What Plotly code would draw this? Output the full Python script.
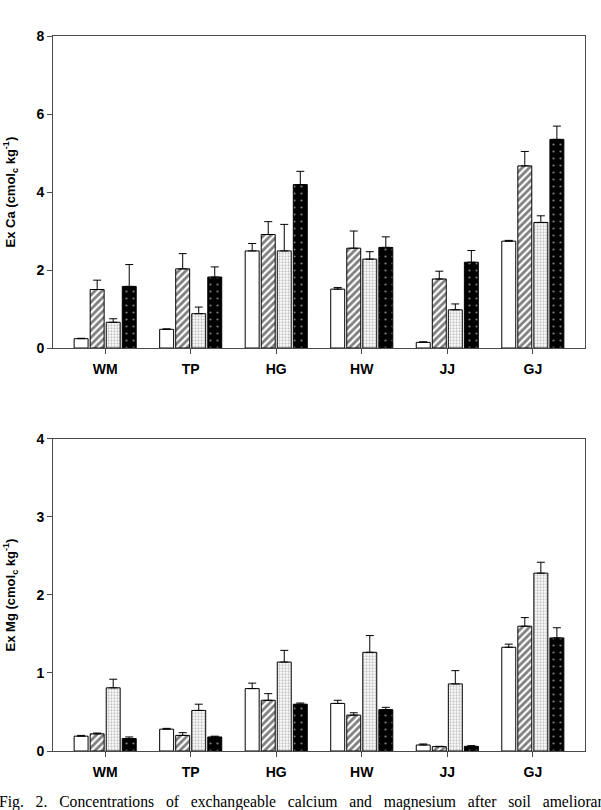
import plotly.graph_objects as go

categories = ["WM", "TP", "HG", "HW", "JJ", "GJ"]

# Exchangeable Ca (cmolc/kg): bar values and upper error-bar tops
ca_s1 = [0.24, 0.48, 2.49, 1.51, 0.145, 2.74]
ca_s1_top = [0.25, 0.49, 2.68, 1.55, 0.16, 2.76]
ca_s2 = [1.50, 2.03, 2.91, 2.56, 1.77, 4.67]
ca_s2_top = [1.74, 2.42, 3.24, 3.00, 1.97, 5.04]
ca_s3 = [0.66, 0.88, 2.49, 2.28, 0.98, 3.22]
ca_s3_top = [0.75, 1.05, 3.17, 2.47, 1.13, 3.39]
ca_s4 = [1.58, 1.82, 4.19, 2.58, 2.20, 5.35]
ca_s4_top = [2.14, 2.08, 4.53, 2.85, 2.50, 5.69]

# Exchangeable Mg (cmolc/kg)
mg_s1 = [0.19, 0.28, 0.80, 0.61, 0.077, 1.33]
mg_s1_top = [0.20, 0.29, 0.87, 0.65, 0.09, 1.37]
mg_s2 = [0.22, 0.20, 0.65, 0.46, 0.056, 1.60]
mg_s2_top = [0.23, 0.235, 0.735, 0.49, 0.06, 1.71]
mg_s3 = [0.81, 0.52, 1.14, 1.265, 0.86, 2.28]
mg_s3_top = [0.92, 0.60, 1.29, 1.48, 1.03, 2.42]
mg_s4 = [0.16, 0.18, 0.60, 0.53, 0.06, 1.45]
mg_s4_top = [0.18, 0.19, 0.615, 0.56, 0.068, 1.58]

ca_ticks = [0, 2, 4, 6, 8]
mg_ticks = [0, 1, 2, 3, 4]

styles = [
    dict(color="white", pattern=dict(shape="")),
    dict(color="white", pattern=dict(shape="/", fgcolor="black", bgcolor="white", size=5, solidity=0.55)),
    dict(color="#e6e6e6", pattern=dict(shape=".", fgcolor="#8a8a8a", bgcolor="white", size=3, solidity=0.45)),
    dict(color="black", pattern=dict(shape=".", fgcolor="white", bgcolor="black", size=7, solidity=0.08)),
]

fig = go.Figure()

def add_series(vals, tops, style, xa, ya):
    err = [t - v for t, v in zip(tops, vals)]
    fig.add_trace(go.Bar(
        x=categories, y=vals, xaxis=xa, yaxis=ya,
        marker=dict(color=style["color"], pattern=style["pattern"],
                    line=dict(color="black", width=1)),
        error_y=dict(type="data", array=err, arrayminus=[0]*len(err), symmetric=False,
                     color="black", thickness=1, width=4),
        showlegend=False,
    ))

for vals, tops, st in zip([ca_s1, ca_s2, ca_s3, ca_s4], [ca_s1_top, ca_s2_top, ca_s3_top, ca_s4_top], styles):
    add_series(vals, tops, st, "x", "y")
for vals, tops, st in zip([mg_s1, mg_s2, mg_s3, mg_s4], [mg_s1_top, mg_s2_top, mg_s3_top, mg_s4_top], styles):
    add_series(vals, tops, st, "x2", "y2")

axis_line = "#4a4a4a"
tickfont = dict(family="Liberation Sans, Arial", size=14, color="black", weight="bold")

xcommon = dict(type="category", range=[-0.61, 5.61], showline=True, linecolor=axis_line, linewidth=1,
               mirror=True, ticks="outside", ticklen=5, tickcolor=axis_line, tickfont=tickfont,
               showgrid=False, zeroline=False, ticklabelstandoff=3)
ycommon = dict(showline=True, linecolor=axis_line, linewidth=1, mirror=True, ticks="outside",
               ticklen=5, tickcolor=axis_line, tickfont=tickfont, showgrid=False, zeroline=False)

fig.update_layout(
    width=601, height=810,
    margin=dict(l=53, r=16, t=36, b=59),
    paper_bgcolor="white", plot_bgcolor="white",
    barmode="group", bargap=0.25, bargroupgap=0.13,
    xaxis=dict(**xcommon, anchor="y"),
    yaxis=dict(**ycommon, domain=[0.5636, 1], range=[0, 8], tickvals=ca_ticks, anchor="x"),
    xaxis2=dict(**xcommon, anchor="y2"),
    yaxis2=dict(**ycommon, domain=[0, 0.4364], range=[0, 4], tickvals=mg_ticks, anchor="x2"),
)

title_font = dict(family="Liberation Sans, Arial", size=13, color="black", weight="bold")
fig.add_annotation(text="Ex Ca (cmol<sub>c</sub> kg<sup>-1</sup>)", textangle=-90, xref="paper", yref="paper",
                   x=-0.08, y=(751-192)/715, xanchor="center", yanchor="middle", showarrow=False, font=title_font)
fig.add_annotation(text="Ex Mg (cmol<sub>c</sub> kg<sup>-1</sup>)", textangle=-90, xref="paper", yref="paper",
                   x=-0.08, y=(751-595)/715, xanchor="center", yanchor="middle", showarrow=False, font=title_font)

caption = "Fig.  2.  Concentrations  of  exchangeable  calcium  and  magnesium  after  soil  amelioran"
fig.add_annotation(text=caption.replace("  ", "&nbsp;&nbsp;&nbsp;"), xref="paper", yref="paper",
                   x=(-3-53)/532, y=(751-802)/715, xanchor="left", yanchor="middle", showarrow=False,
                   font=dict(family="Liberation Serif, Times New Roman", size=15.7, color="black"))

fig.write_html("out.html")
